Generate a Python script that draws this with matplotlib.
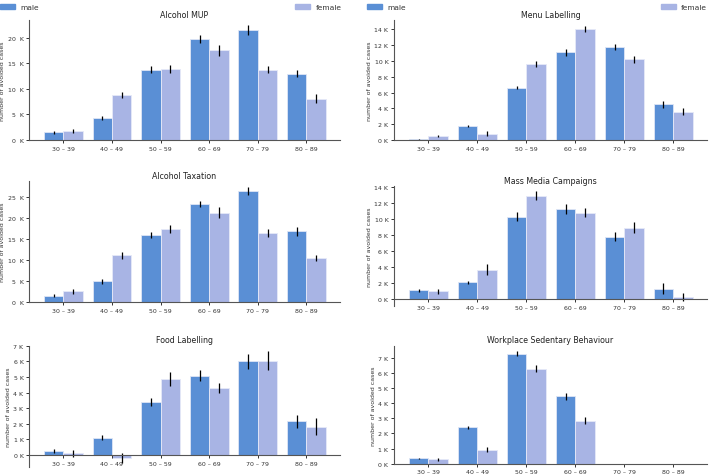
import numpy as np
import matplotlib
matplotlib.use("Agg")
import matplotlib.pyplot as plt
from matplotlib.ticker import FuncFormatter, MultipleLocator
from matplotlib.patches import Patch

age_groups = ["30 – 39", "40 – 49", "50 – 59", "60 – 69", "70 – 79", "80 – 89"]

# values in thousands of avoided cases
mup_male = [1.5, 4.3, 13.8, 19.7, 21.5, 13.0]
mup_female = [1.8, 8.8, 13.9, 17.6, 13.8, 8.1]
mup_male_err = [0.3, 0.4, 0.7, 0.8, 1.0, 0.7]
mup_female_err = [0.4, 0.6, 0.8, 1.1, 0.6, 0.9]

menu_male = [0.1, 1.8, 6.6, 11.1, 11.8, 4.5]
menu_female = [0.5, 0.8, 9.6, 14.1, 10.2, 3.6]
menu_male_err = [0.05, 0.15, 0.2, 0.4, 0.4, 0.5]
menu_female_err = [0.15, 0.3, 0.4, 0.4, 0.4, 0.4]

tax_male = [1.5, 4.9, 16.0, 23.3, 26.4, 16.8]
tax_female = [2.5, 11.1, 17.4, 21.2, 16.4, 10.5]
tax_male_err = [0.3, 0.5, 0.7, 0.8, 1.0, 1.0]
tax_female_err = [0.5, 0.9, 0.9, 1.3, 0.9, 0.8]

mass_male = [1.1, 2.1, 10.3, 11.2, 7.8, 1.3]
mass_female = [1.0, 3.7, 12.9, 10.8, 8.9, 0.3]
mass_male_err = [0.2, 0.2, 0.6, 0.6, 0.6, 0.7]
mass_female_err = [0.3, 0.7, 0.6, 0.6, 0.7, 0.5]

food_male = [0.25, 1.1, 3.4, 5.1, 6.0, 2.15]
food_female = [0.1, -0.2, 4.9, 4.3, 6.05, 1.8]
food_male_err = [0.1, 0.15, 0.25, 0.35, 0.45, 0.4]
food_female_err = [0.2, 0.3, 0.45, 0.35, 0.6, 0.55]

work_male = [0.35, 2.4, 7.3, 4.45, 0.0, 0.0]
work_female = [0.28, 0.92, 6.3, 2.85, 0.0, 0.0]
work_male_err = [0.05, 0.12, 0.18, 0.2, 0.0, 0.0]
work_female_err = [0.08, 0.15, 0.25, 0.25, 0.0, 0.0]

MALE = "#5a8fd5"
FEMALE = "#a8b4e4"
SPINE = "#555555"

panels = [
    # title, male, female, male err, female err, rect, ylim, tick step, label sep
    ("Alcohol MUP", mup_male, mup_female, mup_male_err, mup_female_err,
     [0.041, 0.7044, 0.4386, 0.2516], (0, 23.5), 5, "  "),
    ("Menu Labelling", menu_male, menu_female, menu_male_err, menu_female_err,
     [0.5557, 0.7044, 0.4415, 0.2516], (0, 15.2), 2, " "),
    ("Alcohol Taxation", tax_male, tax_female, tax_male_err, tax_female_err,
     [0.041, 0.3648, 0.4386, 0.2537], (0, 28.8), 5, "  "),
    ("Mass Media Campaigns", mass_male, mass_female, mass_male_err, mass_female_err,
     [0.5557, 0.357, 0.4415, 0.251], (-0.8, 14.1), 2, " "),
    ("Food Labelling", food_male, food_female, food_male_err, food_female_err,
     [0.041, 0.019, 0.4386, 0.2537], (-0.77, 7.0), 1, " "),
    ("Workplace Sedentary Behaviour", work_male, work_female, work_male_err, work_female_err,
     [0.5557, 0.026, 0.4415, 0.2466], (0, 7.8), 1, " "),
]

fig = plt.figure(figsize=(7.09, 4.77), dpi=100)
x = np.arange(len(age_groups))
w = 0.4

for title, m, f, me, fe, rect, ylim, step, sep in panels:
    ax = fig.add_axes(rect)
    ax.bar(x - w / 2, m, w, color=MALE, edgecolor="#dfe6f5", linewidth=0.6)
    ax.bar(x + w / 2, f, w, color=FEMALE, edgecolor="#e6e9f7", linewidth=0.6)
    ax.errorbar(x - w / 2, m, yerr=me, fmt="none", ecolor="black", elinewidth=0.9)
    ax.errorbar(x + w / 2, f, yerr=fe, fmt="none", ecolor="black", elinewidth=0.9)
    ax.set_xlim(-0.705, 5.69)
    ax.set_ylim(*ylim)
    ax.set_xticks(x)
    ax.set_xticklabels(age_groups)
    ax.yaxis.set_major_locator(MultipleLocator(step))
    ax.yaxis.set_major_formatter(FuncFormatter(lambda v, p, s=sep: f"{v:g}{s}K"))
    ax.set_title(title, fontsize=5.7, pad=2.5, color="#222222")
    ax.set_ylabel("number of avoided cases", fontsize=4.5, labelpad=1.5, color="#333333")
    ax.tick_params(labelsize=4.5, length=2.5, width=0.7, pad=1.5, colors="#333333")
    for s in ["top", "right"]:
        ax.spines[s].set_visible(False)
    ax.spines["bottom"].set_position(("data", 0))
    for s in ["left", "bottom"]:
        ax.spines[s].set_color(SPINE)
        ax.spines[s].set_linewidth(0.8)

handles = [Patch(color=MALE, label="male"), Patch(color=FEMALE, label="female")]
for x0, wd in [(0.0, 0.482), (0.518, 0.479)]:
    fig.legend(handles=handles, loc="lower left", bbox_to_anchor=(x0, 0.977, wd, 0.02),
               mode="expand", ncol=2, frameon=False, fontsize=5.4, borderaxespad=0,
               borderpad=0, handlelength=2.0, handleheight=0.6, handletextpad=0.7,
               labelcolor="#333333")

fig.savefig("out.png", dpi=100)
